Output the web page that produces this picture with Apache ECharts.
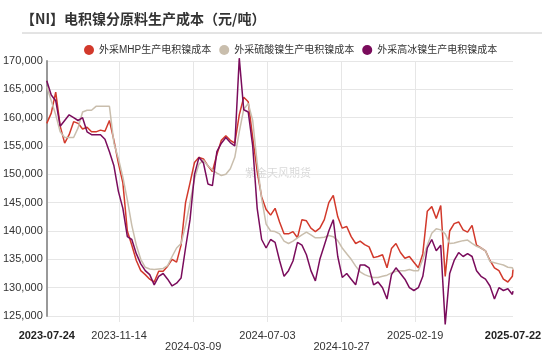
<!DOCTYPE html>
<html style="height: 100%">
<head>
<meta charset="utf-8">
<script type="text/javascript" src="https://cdn.jsdelivr.net/npm/echarts@6/dist/echarts.min.js"></script>
</head>
<body style="height: 100%; margin: 0; background: #fff">
<div id="container" style="width: 550px; height: 352px"></div>
<script type="text/javascript">
// weekly readings (yuan/ton)
var dates = [
    '2023-07-24','2023-07-31','2023-08-07','2023-08-14','2023-08-21','2023-08-28','2023-09-04','2023-09-11','2023-09-18','2023-09-25',
    '2023-10-02','2023-10-09','2023-10-16','2023-10-23','2023-10-30','2023-11-06','2023-11-13','2023-11-20','2023-11-27','2023-12-04',
    '2023-12-11','2023-12-18','2023-12-25','2024-01-01','2024-01-08','2024-01-15','2024-01-22','2024-01-29','2024-02-05','2024-02-12',
    '2024-02-19','2024-02-26','2024-03-04','2024-03-11','2024-03-18','2024-03-25','2024-04-01','2024-04-08','2024-04-15','2024-04-22',
    '2024-04-29','2024-05-06','2024-05-13','2024-05-20','2024-05-27','2024-06-03','2024-06-10','2024-06-17','2024-06-24','2024-07-01',
    '2024-07-08','2024-07-15','2024-07-22','2024-07-29','2024-08-05','2024-08-12','2024-08-19','2024-08-26','2024-09-02','2024-09-09',
    '2024-09-16','2024-09-23','2024-09-30','2024-10-07','2024-10-14','2024-10-21','2024-10-28','2024-11-04','2024-11-11','2024-11-18',
    '2024-11-25','2024-12-02','2024-12-09','2024-12-16','2024-12-23','2024-12-30','2025-01-06','2025-01-13','2025-01-20','2025-01-27',
    '2025-02-03','2025-02-10','2025-02-17','2025-02-24','2025-03-03','2025-03-10','2025-03-17','2025-03-24','2025-03-31','2025-04-07',
    '2025-04-14','2025-04-21','2025-04-28','2025-05-05','2025-05-12','2025-05-19','2025-05-26','2025-06-02','2025-06-09','2025-06-16',
    '2025-06-23','2025-06-30','2025-07-07','2025-07-14','2025-07-21','2025-07-22'
];
var mhpCost = [
    159000,160800,164500,158500,155500,157000,159300,159000,158000,158300,
    157500,157500,157800,157600,159500,156000,152000,148500,140000,137500,
    134800,133000,132300,131500,131000,132900,132900,133800,135000,134500,
    137500,145000,148500,152100,153000,152700,151500,150500,153500,156000,
    156800,156000,155500,160500,163600,162800,156500,150500,146000,143800,
    142800,144000,141600,139500,139500,139900,138800,142000,141800,140500,
    139900,140500,142000,145000,146300,142500,140500,140800,139000,137800,
    138200,137600,137200,135300,135500,135800,133500,136900,137800,136200,
    135200,135500,134500,133500,136000,143500,144300,142200,144500,132000,
    140000,141300,141600,140200,139800,141000,137500,137000,136500,134800,
    133500,133000,131500,131000,132000,133200
];
var sulfateCost = [
    165500,163000,160500,157500,156500,156500,156500,158200,161000,161300,
    161300,162000,162000,162000,162000,155500,152800,149500,145500,141000,
    137500,135000,133600,133300,133200,133300,133400,133900,135500,137000,
    137800,141000,145000,149200,151800,152500,151500,150800,150200,149800,
    150000,151000,153000,157500,161500,162500,159500,152000,145700,141200,
    140000,139900,139500,138200,137800,138200,138800,139300,139800,139300,
    138800,138800,138900,139200,139000,138300,137000,136000,135000,133800,
    132800,132300,132000,131800,131800,132000,132200,132600,132900,133000,
    133000,133200,133000,133000,135000,137500,139600,140400,140200,139500,
    137800,137900,138100,138300,138400,137800,137300,137000,136500,134600,
    134400,134200,134000,133600,133500,133200
];
var matteCost = [
    166500,164000,163000,158500,159500,160500,160000,159500,160000,157500,
    157000,157000,157000,156200,154000,151500,147000,144000,139000,138500,
    136000,134200,133000,132300,130500,132000,132500,131500,130300,130800,
    131700,137000,142000,150000,153000,152000,148300,148000,154000,155500,
    156500,155600,155000,170500,161400,161000,155000,144000,138500,137000,
    138500,138000,134800,132000,133000,134700,138000,137500,135800,133000,
    131200,135000,137500,140000,142000,135500,131800,132500,131500,130500,
    134000,134000,133500,130500,131000,130000,128000,132300,133500,132500,
    131500,130000,129500,130000,132000,137000,138500,136500,137500,123500,
    132500,134800,136200,135500,136000,135500,133000,132000,131500,130300,
    128000,130000,129500,129800,128800,129400
];
var seriesNames = ['外采MHP生产电积镍成本', '外采硫酸镍生产电积镍成本', '外采高冰镍生产电积镍成本'];
var seriesColors = ['#d2392b', '#c9bead', '#7a0c5c'];
var tickLabels = ['2023-07-24', '2023-11-14', '2024-03-09', '2024-07-03', '2024-10-27', '2025-02-19', '2025-07-22'];
var lowerLabels = ['2024-03-09', '2024-10-27'];

// daily category axis from first to last date
var days = [];
var t0 = Date.UTC(2023, 6, 24);
var t1 = Date.UTC(2025, 6, 22);
for (var t = t0; t <= t1; t += 86400000) {
    days.push(new Date(t).toISOString().slice(0, 10));
}

function pairs(vals) {
    return vals.map(function (v, i) { return [dates[i], v]; });
}

function inner(i, v) {
    var k = tickLabels.indexOf(v);
    return k > 0 && k < tickLabels.length - 1;
}

var dom = document.getElementById('container');
var myChart = echarts.init(dom, null, { renderer: 'canvas' });
var fontFam = 'Liberation Sans, Arial, Noto Sans CJK SC, sans-serif';

var option = {
    animation: false,
    backgroundColor: '#fff',
    title: {
        text: '【NI】电积镍分原料生产成本（元/吨）',
        left: 16,
        top: 7,
        textStyle: { fontSize: 14, fontWeight: 'bold', color: '#333', fontFamily: 'Noto Sans CJK SC' }
    },
    graphic: [
        {
            type: 'line',
            shape: { x1: 22, y1: 33, x2: 542, y2: 33 },
            style: { stroke: '#c8c8c8', lineWidth: 1 }
        },
        {
            type: 'text',
            left: 245,
            top: 167,
            z: -1,
            style: { text: '紫金天风期货', fontSize: 11, fill: 'rgba(0,0,0,0.16)', fontFamily: 'Noto Sans CJK SC' }
        }
    ],
    legend: {
        top: 40,
        left: 79,
        width: 470,
        icon: 'circle',
        itemWidth: 10,
        itemHeight: 10,
        itemGap: 8,
        textStyle: { fontSize: 10, color: '#333', fontFamily: fontFam },
        data: seriesNames
    },
    grid: { left: 41, right: 37, top: 61, bottom: 34 },
    xAxis: {
        type: 'category',
        boundaryGap: false,
        data: days,
        axisLine: { show: false },
        axisTick: { show: true, length: 6, lineStyle: { color: '#e6e6e6' }, interval: inner },
        splitLine: { show: true, lineStyle: { color: '#e6e6e6' }, interval: inner },
        axisLabel: {
            interval: function (i, v) { return tickLabels.indexOf(v) >= 0; },
            fontSize: 11,
            color: '#333',
            fontFamily: fontFam,
            lineHeight: 11,
            margin: 14,
            formatter: function (v) {
                var idx = tickLabels.indexOf(v);
                if (idx === 0 || idx === tickLabels.length - 1) return '{b|' + v + '}';
                if (lowerLabels.indexOf(v) >= 0) return '\n{n|' + v + '}';
                return '{n|' + v + '}';
            },
            rich: {
                b: { fontSize: 11, fontWeight: 'bold', color: '#222', fontFamily: fontFam, lineHeight: 11 },
                n: { fontSize: 11, color: '#333', fontFamily: fontFam, lineHeight: 11 }
            }
        }
    },
    yAxis: {
        type: 'value',
        min: 125000,
        max: 170000,
        interval: 5000,
        axisLine: { show: true, lineStyle: { color: '#999', width: 2 } },
        axisTick: { show: false },
        axisLabel: { fontSize: 11, color: '#333', margin: 4, fontFamily: fontFam },
        splitLine: { lineStyle: { color: '#e6e6e6' } }
    },
    series: [
        { name: seriesNames[0], type: 'line', showSymbol: false, clip: false, data: pairs(mhpCost), lineStyle: { width: 1.5, color: seriesColors[0] }, itemStyle: { color: seriesColors[0] } },
        { name: seriesNames[1], type: 'line', showSymbol: false, clip: false, data: pairs(sulfateCost), lineStyle: { width: 1.5, color: seriesColors[1] }, itemStyle: { color: seriesColors[1] } },
        { name: seriesNames[2], type: 'line', showSymbol: false, clip: false, data: pairs(matteCost), lineStyle: { width: 1.5, color: seriesColors[2] }, itemStyle: { color: seriesColors[2] } }
    ]
};

myChart.setOption(option);
</script>
</body>
</html>
